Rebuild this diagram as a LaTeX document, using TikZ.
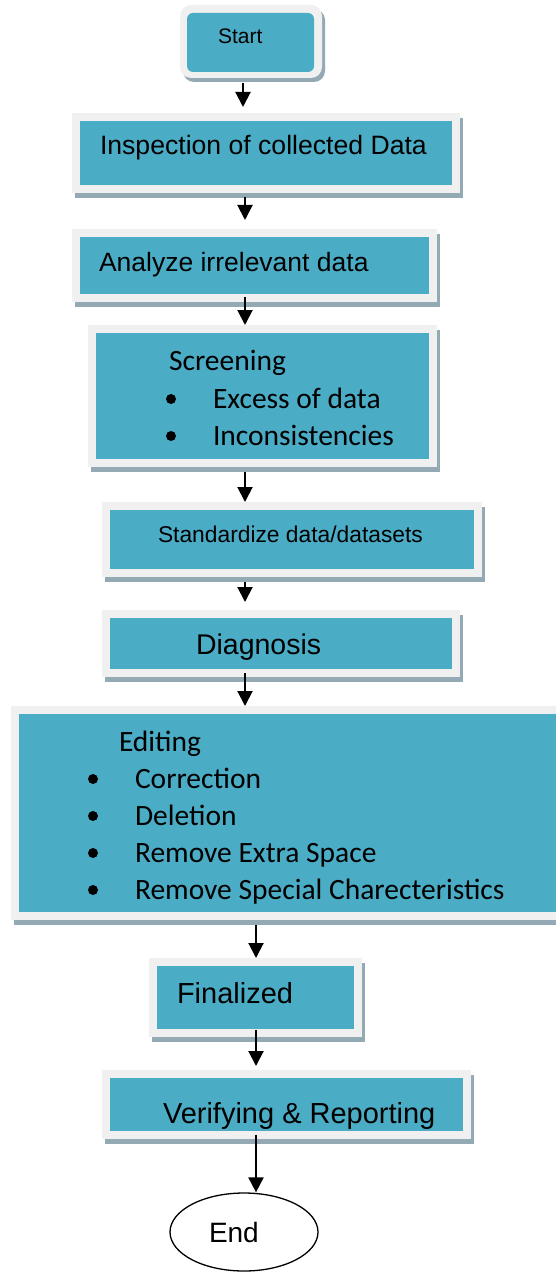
\documentclass[tikz,border=0pt]{standalone}
\usepackage{fontspec}
\setmainfont{Liberation Sans}
\newfontfamily\calibrifont{Carlito}
\usetikzlibrary{arrows.meta,shadows,shapes.geometric}
\definecolor{boxteal}{HTML}{4BACC6}
\definecolor{framegray}{HTML}{F0F0F0}
\definecolor{shadowgray}{HTML}{93AAB5}
\tikzset{
  frame/.style={fill=framegray, draw=none, inner sep=0pt, outer sep=0pt, anchor=north west,
    drop shadow={shadow xshift=3pt, shadow yshift=-5pt, fill=shadowgray, opacity=1},
    path picture={\fill[boxteal] ([shift={(8pt,-8pt)}]path picture bounding box.north west)
      rectangle ([shift={(-8pt,8pt)}]path picture bounding box.south east);}},
  roundframe/.style={fill=framegray, draw=none, inner sep=0pt, outer sep=0pt, anchor=north west,
    rounded corners=11pt,
    drop shadow={shadow xshift=3pt, shadow yshift=-4pt, fill=shadowgray, opacity=1},
    path picture={\fill[boxteal, rounded corners=6pt] ([shift={(7pt,-8pt)}]path picture bounding box.north west)
      rectangle ([shift={(-8pt,6pt)}]path picture bounding box.south east);}},
  txt/.style={anchor=base west, inner sep=0pt, outer sep=0pt},
  ar/.style={font=\fontsize{#1pt}{#1pt}\selectfont},
  cb/.style={font=\calibrifont\fontsize{29.5pt}{29.5pt}\selectfont},
  bul/.style={circle, fill=black, draw=none, inner sep=0pt, minimum size=10pt},
  arr/.style={line width=2pt, -{Triangle[width=15pt,length=15pt]}},
}
\begin{document}
\begin{tikzpicture}[x=1pt,y=-1pt]
\clip (0,0) rectangle (556,1273);
\fill[white] (0,0) rectangle (556,1273);

% boxes
\node[roundframe, minimum width=142pt, minimum height=73pt] (b1) at (180,5) {};
\node[frame, minimum width=388pt, minimum height=80pt] (b2) at (72,113) {};
\node[frame, minimum width=365pt, minimum height=73pt] (b3) at (72,229) {};
\node[frame, minimum width=349pt, minimum height=142pt] (b4) at (88,325) {};
\node[frame, minimum width=380pt, minimum height=75pt] (b5) at (102,502) {};
\node[frame, minimum width=358pt, minimum height=67pt] (b6) at (102,610) {};
\node[frame, minimum width=620pt, minimum height=214pt] (b7) at (11,706) {};
\node[frame, minimum width=213pt, minimum height=79pt] (b8) at (149,958) {};
\node[frame, minimum width=369pt, minimum height=69pt] (b9) at (102,1070) {};
\node[ellipse, draw=black, line width=1.3pt, minimum width=148pt, minimum height=78pt, inner sep=0pt] (e) at (244,1232) {};

% texts
\node[txt, ar=21] (t1) at (218,44) {Start};
\node[txt, ar=26.6] (t2) at (100,155) {Inspection of collected Data};
\node[txt, ar=26.5] (t3) at (99,271) {Analyze irrelevant data};
\node[txt, cb] (t4) at (169,370) {Screening};
\node[bul] (t4b1) at (171,399) {};
\node[txt, cb] (t4i1) at (213,408) {Excess of data};
\node[bul] (t4b2) at (171,436) {};
\node[txt, cb] (t4i2) at (213,445) {Inconsistencies};
\node[txt, ar=22.8] (t5) at (158,542) {Standardize data/datasets};
\node[txt, ar=28.5] (t6) at (196,654) {Diagnosis};
\node[txt, cb] (t7) at (119,751) {Editing};
\node[bul] (t7b1) at (93,779) {};
\node[txt, cb] (t7i1) at (135,788) {Correction};
\node[bul] (t7b2) at (93,816) {};
\node[txt, cb] (t7i2) at (135,825) {Deletion};
\node[bul] (t7b3) at (93,853) {};
\node[txt, cb] (t7i3) at (135,862) {Remove Extra Space};
\node[bul] (t7b4) at (93,890) {};
\node[txt, cb] (t7i4) at (135,899) {Remove Special Charecteristics};
\node[txt, ar=29] (t8) at (177,1003) {Finalized};
\node[txt, ar=29] (t9) at (163,1123) {Verifying \& Reporting};
\node[txt, ar=28] (t10) at (209,1242) {End};

% connectors
\coordinate (xa) at (243,0);
\coordinate (xb) at (245,0);
\coordinate (xc) at (256,0);
\draw[arr, shorten <=5pt, shorten >=6pt] (xa |- b1.south) -- (xa |- b2.north);
\draw[arr, shorten <=4pt, shorten >=9pt] (xb |- b2.south) -- (xb |- b3.north);
\draw[arr, shorten <=-5pt] (xb |- b3.south) -- (xb |- b4.north);
\draw[arr, shorten <=5pt] (xb |- b4.south) -- (xb |- b5.north);
\draw[arr, shorten <=5pt, shorten >=8pt] (xb |- b5.south) -- (xb |- b6.north);
\draw[arr, shorten <=-4pt] (xb |- b6.south) -- (xb |- b7.north);
\draw[arr, shorten <=5pt] (xc |- b7.south) -- (xc |- b8.north);
\draw[arr, shorten <=-7pt, shorten >=4pt] (xc |- b8.south) -- (xc |- b9.north);
\draw[arr, shorten <=-4pt] (xc |- b9.south) -- (xc |- e.north);
\end{tikzpicture}
\end{document}
